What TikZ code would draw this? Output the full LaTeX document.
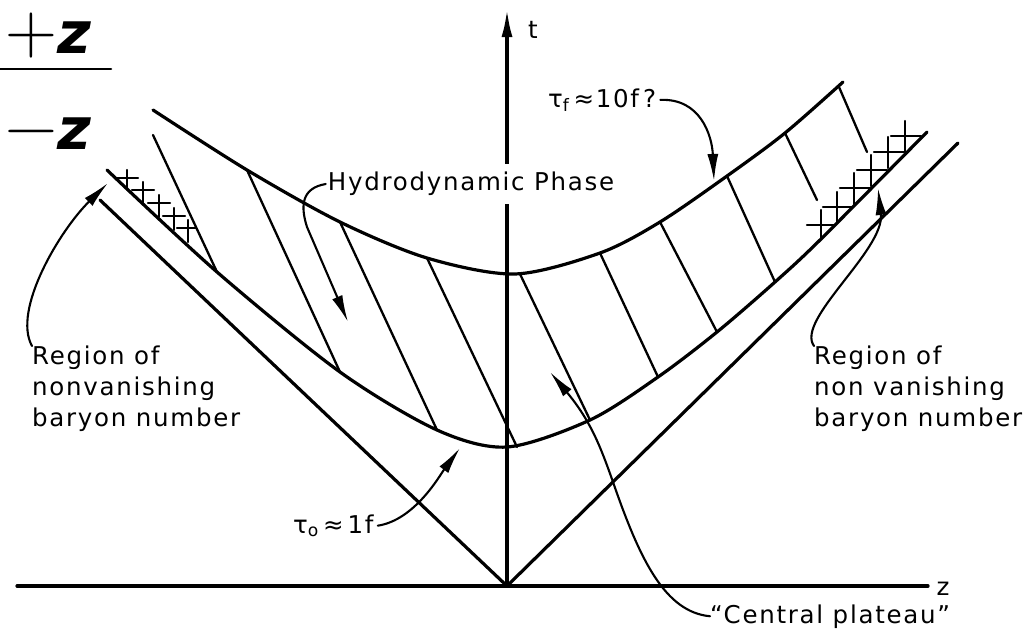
\documentclass[tikz,border=0pt]{standalone}
\usepackage{fontspec}
\usepackage{tikz}
\usetikzlibrary{arrows.meta}
\newfontfamily\lblfont{DejaVu Sans}[LetterSpace=7]
\newfontfamily\zfont{DejaVu Sans}
\newcommand\lblsize{\lblfont\fontsize{24.5}{31}\selectfont}

\begin{document}
\begin{tikzpicture}[x=1pt, y=-1pt, line cap=round, line join=round,
    main/.style={line width=3.2pt},
    hatch/.style={line width=2.3pt},
    pointer/.style={line width=2.1pt, -{Latex[length=27pt,width=11pt]}},
    lbl/.style={inner sep=0pt, align=left, font=\lblsize}]
  \useasboundingbox (0,0) rectangle (1025,635);

  % +z over -z
  \node[inner sep=0pt, anchor=base west] (plusz) at (5,53) {\fontsize{72}{72}\selectfont +{\zfont\bfseries\itshape\fontsize{58}{58}\selectfont z}};
  \node[inner sep=0pt, anchor=base west] (minusz) at (5,149) {\fontsize{72}{72}\selectfont −{\zfont\bfseries\itshape\fontsize{58}{58}\selectfont z}};
  \draw[line width=2.6pt] (0,69) -- (111,69);

  % axes
  \coordinate (O) at (507,586);
  \draw[main] (17,586) -- (928,586);
  \draw[main, -{Latex[length=28pt,width=11pt]}] (O) -- (507,9);
  \node[lbl] (zlab) at (943,589) {z};
  \node[lbl] (tlab) at (533,30) {t};

  % light cone
  \draw[main] (100,200) -- (O) -- (958,143);

  % tau_0 and tau_f
  \draw[main] plot[smooth] coordinates {(107,170) (217,272) (340,372) (437,430) (507,447) (590,420) (658,377) (717,332) (775,282) (820,240) (927,132)};
  \draw[main] plot[smooth] coordinates {(153,110) (247,170) (340,222) (427,258) (515,274) (600,253) (660,222) (727,176) (785,133) (843,82)};

  % world lines
  \foreach \xa/\ya/\xb/\yb in {153/135/217/272, 247/170/340/372, 340/222/437/430,
      427/258/517/447, 520/274/590/420, 600/253/658/377, 660/222/717/332,
      727/176/775/282, 785/133/817/200, 839/87/867/152}
    \draw[hatch] (\xa,\ya) -- (\xb,\yb);

  % baryon crosses
  \begin{scope}
    \clip (104,170) -- (217,272) -- (153,135) -- (100,135) -- cycle;
    \foreach \x/\y in {127/178, 143/190, 159/203, 174/216, 188/228}
      \draw[hatch] (\x-11,\y) -- (\x+11,\y) (\x,\y-8) -- (\x,\y+14);
  \end{scope}
  \begin{scope}
    \clip (805,255) -- (932,127) -- (932,100) -- (790,100) -- cycle;
    \foreach \x/\y in {821/225, 837/207, 854/188, 871/170, 888/152, 905/136}
      \draw[hatch] (\x-14,\y) -- (\x+16,\y) (\x,\y-15) -- (\x,\y+16);
  \end{scope}

  % labels
  \node[lbl, fill=white, inner xsep=2pt, inner ysep=8pt] (hydro) at (471,184) {Hydrodynamic Phase};
  \node[lbl, inner xsep=4pt, anchor=base west] (tauf) at (544,107) {τ\textsubscript{f}\,≈10f\,?};
  \node[lbl, inner xsep=4pt, anchor=base west] (tauo) at (289,533) {τ\textsubscript{o}\,≈\,1f};
  \node[lbl, anchor=north west] (regl) at (32,346) {Region of\\nonvanishing\\baryon number};
  \node[lbl, anchor=north west] (regr) at (814,346) {Region of\\non vanishing\\baryon number};
  \node[lbl, anchor=base west] (plat) at (710,623) {“Central plateau”};

  % pointers
  \draw[pointer] (hydro.west) .. controls (302,188) and (300,205) .. (307,227) -- (348,322);
  \draw[pointer] (tauf.east) .. controls (700,98) and (712,135) .. (714,181);
  \draw[pointer] (tauo.east) .. controls (415,520) and (440,475) .. (460,448);
  \draw[pointer] (regl.north west) .. controls (12,310) and (60,230) .. (108,183);
  \draw[pointer] (regr.north west) .. controls (795,320) and (885,250) .. (878,188);
  \draw[pointer] (plat.west) .. controls (665,612) and (640,560) .. (613,482) .. controls (600,445) and (590,420) .. (550,372);
\end{tikzpicture}
\end{document}
